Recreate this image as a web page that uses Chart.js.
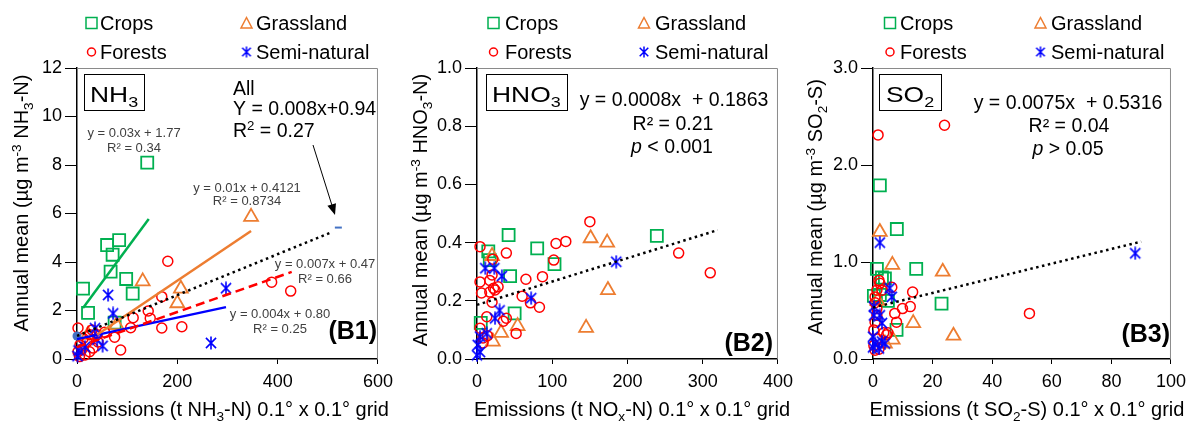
<!DOCTYPE html>
<html>
<head>
<meta charset="utf-8">
<script src="https://cdn.jsdelivr.net/npm/chart.js@4.4.1/dist/chart.umd.min.js"></script>
<style>
  body { margin: 0; background: #fff; width: 1193px; height: 421px; overflow: hidden; position: relative; }
  canvas { position: absolute; top: 0; }
</style>
</head>
<body>
<canvas id="b1" width="400" height="421" style="left:0"></canvas>
<canvas id="b2" width="400" height="421" style="left:400px"></canvas>
<canvas id="b3" width="393" height="421" style="left:800px"></canvas>
<script>
// ---- data ----
const landCovers = ['Crops', 'Grassland', 'Forests', 'Semi-natural'];

// B1: NH3
const nh3Crops = [[140,8.1],[12,2.9],[22,1.9],[60,4.7],[71,4.3],[84,4.9],[67,3.6],[98,3.3],[111,2.7],[75,1.5]];
const nh3Grass = [[347,5.86],[131,3.2],[207,2.9],[200,2.3],[79,1.4],[22,1.0]];
const nh3Forest = [[181,4.03],[169,2.57],[169,1.28],[209,1.33],[142,1.98],[146,1.68],[112,1.7],[107,1.29],
  [388,3.17],[426,2.8],[87,0.37],[75,0.9],[55,1.1],[40,1.0],[30,1.2],[32,0.45],[16,0.17],[12,0.85],
  [6,0.58],[2,0.3],[20,0.7],[42,0.7],[26,1.0],[2,1.28],[5,0.1],[10,0.4],[25,0.3]];
const nh3Semi = [[297,2.92],[267,0.66],[62,2.64],[72,1.88],[36,1.27],[51,0.54],[1,0.12],[16,0.5],[40,0.8],[3,0.35]];
const nh3All = [[0,0.95],[521,5.42]];
const nh3CropsFit = [[12,2.1],[143,5.77]];
const nh3GrassFit = [[40,1.0],[347,5.28]];
const nh3ForestFit = [[0,0.49],[428,3.59]];
const nh3SemiFit = [[0,0.82],[297,2.14]];
const nh3AllFit = [[0,0.95],[509,5.24]];
const b1XTicks = [0,200,400,600];
const b1XLabels = ['0','200','400','600'];
const b1YTicks = [0,2,4,6,8,10,12];
const b1YLabels = ['0','2','4','6','8','10','12'];

// B2: HNO3
const hno3Crops = [[42,0.426],[80,0.38],[103,0.326],[239,0.423],[44,0.285],[50,0.157],[5,0.124],[15,0.37],[17,0.34]];
const hno3Grass = [[151,0.415],[173,0.40],[174,0.237],[145,0.107],[54,0.113],[32,0.09],[21,0.06],[20,0.354]];
const hno3Forest = [[150,0.472],[105,0.397],[118,0.404],[102,0.34],[268,0.364],[310,0.296],[39,0.364],[87,0.283],
  [65,0.274],[60,0.216],[71,0.193],[83,0.178],[52,0.088],[4,0.386],[21,0.343],[4,0.265],[6,0.227],[17,0.23],
  [24,0.237],[28,0.248],[20,0.289],[20,0.195],[13,0.145],[4,0.106],[39,0.14],[8,0.072],[8,0.055],[17,0.27],
  [22,0.243],[35,0.13],[14,0.08]];
const hno3Semi = [[185,0.334],[72,0.209],[11,0.312],[23,0.312],[33,0.285],[30,0.167],[24,0.14],[13,0.088],
  [4,0.077],[1,0.048],[4,0.024],[0,0.013]];
const hno3AllFit = [[0,0.186],[320,0.443]];
const b2XTicks = [0,100,200,300,400];
const b2XLabels = ['0','100','200','300','400'];
const b2YTicks = [0,0.2,0.4,0.6,0.8,1.0];
const b2YLabels = ['0.0','0.2','0.4','0.6','0.8','1.0'];

// B3: SO2
const so2Crops = [[2.3,1.79],[8,1.34],[14.5,0.93],[23,0.57],[1.3,0.93],[4,0.83],[2.3,0.66],[7.9,0.3],[0.3,0.65],[3,0.84],[5,0.6]];
const so2Grass = [[2.3,1.31],[6.5,0.97],[23.4,0.9],[13.5,0.37],[27,0.24],[6.6,0.2],[4,0.16],[1.5,0.6]];
const so2Forest = [[1.7,2.31],[24,2.41],[52.5,0.47],[13.3,0.69],[12.5,0.54],[9.9,0.52],[7.9,0.38],[7.3,0.47],
  [2,0.81],[1.3,0.71],[3,0.71],[0.7,0.64],[0.7,0.58],[1.3,0.52],[1.3,0.45],[0.7,0.38],[0.3,0.3],[3.6,0.27],
  [4.6,0.25],[1.3,0.21],[0.3,0.14],[0.7,0.09],[2.3,0.78],[6.3,0.74],[5,0.27],[2,0.1]];
const so2Semi = [[88,1.09],[2.3,1.2],[5.6,0.73],[6.3,0.64],[0.3,0.54],[0.3,0.45],[2.3,0.45],[3,0.37],[0,0.23],
  [0.7,0.16],[3,0.18],[4,0.16],[0,0.12],[2,0.11]];
const so2AllFit = [[0,0.53],[90,1.21]];
const b3XTicks = [0,20,40,60,80,100];
const b3XLabels = ['0','20','40','60','80','100'];
const b3YTicks = [0,1,2,3];
const b3YLabels = ['0.0','1.0','2.0','3.0'];

// ---- styling ----
const FONT = '"Liberation Sans", Arial, Helvetica, sans-serif';
const GREEN = '#00B050', ORANGE = '#ED7D31', RED = '#FF0000', BLUE = '#0000FF';
Chart.defaults.font.family = FONT;
Chart.defaults.color = '#000';

const S = t => [t, 'sub'], P = t => [t, 'sup'], I = t => [t, 'it'];

function asterisk(size, lw) {
  const c = document.createElement('canvas');
  c.width = c.height = size;
  const g = c.getContext('2d');
  g.strokeStyle = BLUE; g.lineWidth = lw;
  const m = size / 2, r = size / 2 - 0.5, d = r * 0.78;
  g.beginPath();
  g.moveTo(m, m - r); g.lineTo(m, m + r);
  g.moveTo(m - d, m - d); g.lineTo(m + d, m + d);
  g.moveTo(m - d, m + d); g.lineTo(m + d, m - d);
  g.stroke();
  return c;
}
const starPt = asterisk(14, 1.6);
const starLeg = asterisk(12, 1.5);

const pts = arr => arr.map(p => ({x: p[0], y: p[1]}));

function markerSets(series) {
  return [
    {data: pts(series[3]), pointStyle: starPt, radius: 7, order: 1},
    {data: pts(series[2]), pointStyle: 'circle', pointRadius: 5, pointBorderColor: RED, pointBorderWidth: 1.5, order: 2},
    {data: pts(series[1]), pointStyle: 'triangle', pointRadius: 8, pointBorderColor: ORANGE, pointBorderWidth: 1.8, order: 3},
    {data: pts(series[0]), pointStyle: 'rect', pointRadius: 8.5, pointBorderColor: GREEN, pointBorderWidth: 1.8, order: 4}
  ].map((d, i) => Object.assign({label: landCovers[3 - i], pointBackgroundColor: 'rgba(0,0,0,0)', clip: false}, d,
      d.radius ? {pointRadius: d.radius} : {}));
}

function fitSet(f) {
  return {data: pts(f.data), showLine: true, borderColor: f.color, borderWidth: 2.5,
    borderDash: f.dash || [], pointRadius: 0, order: 0, clip: false};
}

// rich text with sub/superscripts; sx stretches it horizontally
function drawRich(ctx, parts, x, y, o) {
  const size = o.size, sx = o.sx || 1;
  const fontFor = p => {
    const small = p[1] === 'sub' || p[1] === 'sup';
    return (p[1] === 'it' ? 'italic ' : '') + (o.bold ? 'bold ' : '') + (small ? size * 0.68 : size) + 'px ' + FONT;
  };
  const items = parts.map(p => typeof p === 'string' ? [p, ''] : p);
  let w = 0;
  items.forEach(p => { ctx.font = fontFor(p); w += ctx.measureText(p[0]).width; });
  const x0 = o.align === 'center' ? x - w * sx / 2 : o.align === 'right' ? x - w * sx : x;
  ctx.save();
  ctx.translate(x0, y);
  ctx.scale(sx, 1);
  ctx.fillStyle = o.color || '#000';
  ctx.textAlign = 'left';
  ctx.textBaseline = 'alphabetic';
  let cx = 0;
  items.forEach(p => {
    ctx.font = fontFor(p);
    const dy = p[1] === 'sub' ? size * 0.24 : p[1] === 'sup' ? -size * 0.36 : 0;
    ctx.fillText(p[0], cx, dy);
    cx += ctx.measureText(p[0]).width;
  });
  ctx.restore();
}

const decor = {
  id: 'decor',
  beforeDatasetsDraw(chart) {
    const {ctx, chartArea: a} = chart;
    ctx.save();
    ctx.strokeStyle = '#8a8a8a';
    ctx.lineWidth = 1;
    ctx.beginPath();
    ctx.moveTo(a.left, a.top + 0.5);
    ctx.lineTo(a.right - 0.5, a.top + 0.5);
    ctx.lineTo(a.right - 0.5, a.bottom);
    ctx.stroke();
    ctx.restore();
  },
  afterDraw(chart) {
    const {ctx} = chart;
    const p = chart.options.plugins.decor;
    ctx.save();
    // legend, 2 x 2
    const L = p.legend;
    ctx.lineWidth = 1.5;
    ctx.strokeStyle = GREEN;
    ctx.strokeRect(L.m1 - 5.5, 17.5, 11, 11);
    ctx.strokeStyle = ORANGE;
    ctx.beginPath();
    ctx.moveTo(L.m2, 17.5); ctx.lineTo(L.m2 + 5.5, 28); ctx.lineTo(L.m2 - 5.5, 28); ctx.closePath();
    ctx.stroke();
    ctx.strokeStyle = RED;
    ctx.beginPath(); ctx.arc(L.m1, 52, 4, 0, Math.PI * 2); ctx.stroke();
    ctx.drawImage(starLeg, L.m2 - 6, 46);
    drawRich(ctx, [landCovers[0]], L.t1, 30, {size: 20});
    drawRich(ctx, [landCovers[1]], L.t2, 30, {size: 20});
    drawRich(ctx, [landCovers[2]], L.t1, 59, {size: 20});
    drawRich(ctx, [landCovers[3]], L.t2, 59, {size: 20});

    // axis titles
    drawRich(ctx, p.xTitle.parts, p.xTitle.cx, 416, {size: 20, align: 'center'});
    ctx.save();
    ctx.translate(p.yTitle.x, p.yTitle.cy);
    ctx.rotate(-Math.PI / 2);
    drawRich(ctx, p.yTitle.parts, 0, 0, {size: 20, align: 'center'});
    ctx.restore();

    // boxed gas label
    const b = p.box;
    ctx.strokeStyle = '#000';
    ctx.lineWidth = 1;
    ctx.strokeRect(b.x + 0.5, b.y + 0.5, b.w, b.h);
    drawRich(ctx, b.parts, b.tx, b.ty, {size: 22, sx: 1.2});

    // equations and panel tag
    p.texts.forEach(t => drawRich(ctx, t.parts, t.x, t.y, t));

    // arrow
    if (p.arrow) {
      const [x1, y1, x2, y2] = p.arrow;
      const ang = Math.atan2(y2 - y1, x2 - x1);
      ctx.strokeStyle = '#000'; ctx.fillStyle = '#000'; ctx.lineWidth = 1;
      ctx.beginPath(); ctx.moveTo(x1, y1);
      ctx.lineTo(x2 - 9 * Math.cos(ang), y2 - 9 * Math.sin(ang)); ctx.stroke();
      ctx.beginPath();
      ctx.moveTo(x2, y2);
      ctx.lineTo(x2 - 11 * Math.cos(ang) + 4.5 * Math.sin(ang), y2 - 11 * Math.sin(ang) - 4.5 * Math.cos(ang));
      ctx.lineTo(x2 - 11 * Math.cos(ang) - 4.5 * Math.sin(ang), y2 - 11 * Math.sin(ang) + 4.5 * Math.cos(ang));
      ctx.closePath(); ctx.fill();
    }
    ctx.restore();
  }
};

function makeChart(id, c) {
  const datasets = c.fits.map(fitSet).concat(markerSets(c.series)).concat(c.extra || []);
  const axis = (ticks, labels, max, tl, pad, isX) => ({
    type: 'linear', min: 0, max: max,
    afterBuildTicks: s => { s.ticks = ticks.map(v => ({value: v})); },
    afterFit: s => { if (isX) s.height = 62; else s.width = c.left; },
    ticks: {font: {size: 18}, color: '#000', padding: pad, callback: (v, i) => labels[i], maxRotation: 0, autoSkip: false},
    grid: {display: true, drawOnChartArea: false, drawTicks: true, tickLength: tl, color: '#000', lineWidth: 1},
    border: {display: true, color: '#000', width: 1.5}
  });
  return new Chart(document.getElementById(id), {
    type: 'scatter',
    data: {datasets},
    options: {
      responsive: false, animation: false, events: [],
      layout: {padding: {top: 68, right: c.right, left: 0, bottom: 0}},
      plugins: {legend: {display: false}, tooltip: {enabled: false}, decor: c.decor},
      scales: {
        x: axis(c.xTicks, c.xLabels, c.xMax, 5, 7, true),
        y: axis(c.yTicks, c.yLabels, c.yMax, 12, 3, false)
      }
    },
    plugins: [decor]
  });
}

const small = (parts, x, y) => ({parts, x, y, size: 13, align: 'center', color: '#404040'});
const big = (parts, x, y, align) => ({parts, x, y, size: 19.5, align: align || 'center'});

makeChart('b1', {
  left: 77, right: 20, xMax: 600, yMax: 12,
  xTicks: b1XTicks, xLabels: b1XLabels, yTicks: b1YTicks, yLabels: b1YLabels,
  series: [nh3Crops, nh3Grass, nh3Forest, nh3Semi],
  fits: [
    {data: nh3AllFit, color: '#000', dash: [2.5, 3.5]},
    {data: nh3CropsFit, color: GREEN},
    {data: nh3GrassFit, color: ORANGE},
    {data: nh3ForestFit, color: RED, dash: [9, 5]},
    {data: nh3SemiFit, color: BLUE}
  ],
  extra: [{data: pts(nh3All), pointStyle: ['circle', 'line'], pointRadius: [4.5, 3.5],
    pointBackgroundColor: '#4472C4', pointBorderColor: '#4472C4', pointBorderWidth: [0, 2], order: 0, clip: false}],
  decor: {
    legend: {m1: 91.5, t1: 100, m2: 246.5, t2: 256},
    xTitle: {cx: 231, parts: ['Emissions (t NH', S('3'), '-N) 0.1° x 0.1° grid']},
    yTitle: {x: 28, cy: 203, parts: ['Annual mean (µg m', P('-3'), ' NH', S('3'), '-N)']},
    box: {x: 84, y: 74, w: 60, h: 36, tx: 90, ty: 102, parts: ['NH', S('3')]},
    texts: [
      big(['All'], 233, 95, 'left'),
      big(['Y = 0.008x+0.94'], 233, 115, 'left'),
      big(['R', P('2'), ' = 0.27'], 233, 137, 'left'),
      small(['y = 0.03x + 1.77'], 134, 137),
      small(['R² = 0.34'], 134, 152),
      small(['y = 0.01x + 0.4121'], 247, 192),
      small(['R² = 0.8734'], 247, 205),
      small(['y = 0.007x + 0.47'], 325, 268),
      small(['R² = 0.66'], 325, 283),
      small(['y = 0.004x + 0.80'], 280, 318),
      small(['R² = 0.25'], 280, 333),
      {parts: ['(B1)'], x: 377, y: 339, size: 25, bold: true, align: 'right'}
    ],
    arrow: [313, 145, 335, 215]
  }
});

makeChart('b2', {
  left: 77, right: 20, xMax: 400, yMax: 1.0,
  xTicks: b2XTicks, xLabels: b2XLabels, yTicks: b2YTicks, yLabels: b2YLabels,
  series: [hno3Crops, hno3Grass, hno3Forest, hno3Semi],
  fits: [{data: hno3AllFit, color: '#000', dash: [2.5, 3.5]}],
  decor: {
    legend: {m1: 93.5, t1: 105, m2: 244, t2: 255},
    xTitle: {cx: 232, parts: ['Emissions (t NO', S('x'), '-N) 0.1° x 0.1° grid']},
    yTitle: {x: 27, cy: 210, parts: ['Annual mean (µg m', P('-3'), ' HNO', S('3'), '-N)']},
    box: {x: 86, y: 74, w: 81, h: 36, tx: 92, ty: 102, parts: ['HNO', S('3')]},
    texts: [
      big(['y = 0.0008x  + 0.1863'], 274, 106),
      big(['R² = 0.21'], 273, 130),
      big([I('p'), ' < 0.001'], 272, 153),
      {parts: ['(B2)'], x: 373, y: 351, size: 25, bold: true, align: 'right'}
    ]
  }
});

makeChart('b3', {
  left: 73, right: 17, xMax: 100, yMax: 3.0,
  xTicks: b3XTicks, xLabels: b3XLabels, yTicks: b3YTicks, yLabels: b3YLabels,
  series: [so2Crops, so2Grass, so2Forest, so2Semi],
  fits: [{data: so2AllFit, color: '#000', dash: [2.5, 3.5]}],
  decor: {
    legend: {m1: 90, t1: 100, m2: 240.5, t2: 251},
    xTitle: {cx: 227, parts: ['Emissions (t SO', S('2'), '-S) 0.1° x 0.1° grid']},
    yTitle: {x: 22, cy: 207, parts: ['Annual mean (µg m', P('-3'), ' SO', S('2'), '-S)']},
    box: {x: 79, y: 74, w: 62, h: 36, tx: 86, ty: 102, parts: ['SO', S('2')]},
    texts: [
      big(['y = 0.0075x  + 0.5316'], 268, 109),
      big(['R² = 0.04'], 269, 132),
      big([I('p'), ' > 0.05'], 268, 155),
      {parts: ['(B3)'], x: 370, y: 342, size: 25, bold: true, align: 'right'}
    ]
  }
});
</script>
</body>
</html>
